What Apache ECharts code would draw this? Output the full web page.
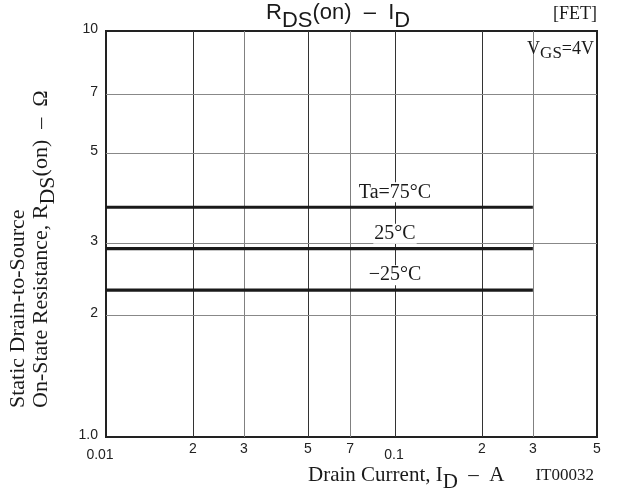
<!DOCTYPE html>
<html>
<head>
<meta charset="utf-8">
<style>
  html, body { margin: 0; padding: 0; background: #fff; }
  #chart { width: 626px; height: 488px; }
</style>
<script src="https://cdn.jsdelivr.net/npm/echarts/dist/echarts.min.js"></script>
</head>
<body>
<div id="chart"></div>
<script>
// Drain current gridlines (A) and their printed labels
const currentTicks = [0.01, 0.02, 0.03, 0.05, 0.07, 0.1, 0.2, 0.3, 0.5];
const currentTickLabels = ['0.01', '2', '3', '5', '7', '0.1', '2', '3', '5'];
// On-resistance gridlines (ohm) and their printed labels
const resistanceTicks = [1, 2, 3, 5, 7, 10];
const resistanceTickLabels = ['1.0', '2', '3', '5', '7', '10'];
// RDS(on) curves, one per ambient temperature
const temperatureLabels = ['Ta=75°C', '25°C', '\u221225°C'];
const rdsOnValues = [3.68, 2.91, 2.30];
const currentStart = 0.01;
const currentEnd = 0.3;

const SERIF = '"Liberation Serif", "Times New Roman", serif';
const SANS = '"Liberation Sans", Arial, sans-serif';
const INK = '#1a1a1a';

const chart = echarts.init(document.getElementById('chart'), null, { renderer: 'canvas' });

const xMin = currentTicks[0], xMax = currentTicks[currentTicks.length - 1];
const yMin = resistanceTicks[0], yMax = resistanceTicks[resistanceTicks.length - 1];
const lightX = [0.03, 0.07, 0.3];

// vertical gridlines; the frame already draws the two edge lines
const vGrid = currentTicks.map((v, i) => {
  const edge = (v === xMin || v === xMax);
  const decade = Math.abs(Math.log10(v) - Math.round(Math.log10(v))) < 1e-9;
  return {
    xAxis: v,
    lineStyle: {
      type: 'solid',
      color: edge ? 'rgba(0,0,0,0)' : (lightX.includes(v) ? '#808080' : '#333'),
      width: 1
    },
    label: {
      formatter: currentTickLabels[i],
      color: '#222',
      distance: decade ? 11 : 5,
      offset: [v === xMin ? -6 : (decade ? -1 : 0), 0]
    }
  };
});

// horizontal gridlines
const hGrid = resistanceTicks.map((v, i) => {
  const edge = (v === yMin || v === yMax);
  return {
    yAxis: v,
    lineStyle: { type: 'solid', color: edge ? 'rgba(0,0,0,0)' : '#888', width: 1 },
    label: { formatter: resistanceTickLabels[i], color: '#222', distance: 8, offset: [0, -2] }
  };
});

const curveSeries = rdsOnValues.map((v, i) => ({
  type: 'line',
  name: temperatureLabels[i],
  data: [[currentStart, v], [currentEnd, v]],
  showSymbol: false,
  symbol: 'none',
  lineStyle: { color: INK, width: 3.2 },
  z: 5,
  silent: true,
  markPoint: {
    symbol: 'circle',
    symbolSize: 1,
    itemStyle: { color: 'rgba(0,0,0,0)' },
    silent: true,
    data: [{ coord: [0.1, v], value: temperatureLabels[i] }],
    label: {
      show: true,
      position: 'inside',
      offset: [0, -15],
      formatter: temperatureLabels[i],
      fontFamily: SERIF,
      fontSize: 20,
      color: INK,
      backgroundColor: '#fff',
      padding: [0, 1]
    }
  }
}));

const option = {
  animation: false,
  backgroundColor: '#fff',
  grid: {
    left: 106, right: 29, top: 31, bottom: 51,
    show: true, borderColor: '#222', borderWidth: 2, backgroundColor: 'transparent'
  },
  xAxis: {
    type: 'log', logBase: 10, min: xMin, max: xMax,
    axisLine: { show: false }, axisTick: { show: false },
    axisLabel: { show: false }, splitLine: { show: false }
  },
  yAxis: {
    type: 'log', logBase: 10, min: yMin, max: yMax,
    axisLine: { show: false }, axisTick: { show: false },
    axisLabel: { show: false }, splitLine: { show: false }
  },
  series: [
    {
      type: 'line',
      name: 'grid',
      data: [],
      silent: true,
      z: 1,
      markLine: {
        silent: true,
        symbol: ['none', 'none'],
        label: {
          show: true,
          position: 'start',
          fontFamily: SANS,
          fontSize: 14,
          color: '#222'
        },
        data: vGrid.concat(hGrid)
      }
    }
  ].concat(curveSeries),
  graphic: [
    {
      type: 'text', left: 266, top: 2, silent: true,
      style: {
        text: '{m|R}{s|DS}{m|(on)  \u2013  I}{s|D}',
        fill: INK,
        rich: {
          m: { fontFamily: SANS, fontSize: 22, lineHeight: 22, verticalAlign: 'top', fill: INK },
          s: { fontFamily: SANS, fontSize: 22, lineHeight: 22, padding: [8, 0, 0, 0], verticalAlign: 'top', fill: INK }
        }
      }
    },
    {
      type: 'text', right: 29, top: 5, silent: true,
      style: { text: '[FET]', font: '18px ' + SERIF, fill: INK }
    },
    {
      type: 'text', right: 32, top: 40, silent: true, z: 10,
      style: {
        text: '{m|V}{s|GS}{m|=4V}',
        fill: INK,
        rich: {
          m: { fontFamily: SERIF, fontSize: 18, lineHeight: 18, verticalAlign: 'top', fill: INK },
          s: { fontFamily: SERIF, fontSize: 17, lineHeight: 18, padding: [5, 0, 0, 0], verticalAlign: 'top', fill: INK }
        }
      }
    },
    {
      type: 'text', x: 18, y: 408, rotation: Math.PI / 2, silent: true,
      style: {
        text: 'Static Drain-to-Source', font: '22px ' + SERIF, fill: INK,
        textAlign: 'left', textVerticalAlign: 'middle'
      }
    },
    {
      type: 'text', x: 41, y: 408, rotation: Math.PI / 2, silent: true,
      style: {
        text: '{m|On-State Resistance, R}{s|DS}{m|(on)  \u2013  \u03A9}',
        fill: INK,
        textAlign: 'left', textVerticalAlign: 'middle',
        rich: {
          m: { fontFamily: SERIF, fontSize: 22, lineHeight: 22, verticalAlign: 'top', fill: INK },
          s: { fontFamily: SERIF, fontSize: 22, lineHeight: 22, padding: [7, 0, 0, 0], verticalAlign: 'top', fill: INK }
        }
      }
    },
    {
      type: 'text', left: 308, top: 465, silent: true,
      style: {
        text: '{m|Drain Current, I}{s|D}{m|  \u2013  A}',
        fill: INK,
        rich: {
          m: { fontFamily: SERIF, fontSize: 21, lineHeight: 21, verticalAlign: 'top', fill: INK },
          s: { fontFamily: SERIF, fontSize: 21, lineHeight: 21, padding: [7, 0, 0, 0], verticalAlign: 'top', fill: INK }
        }
      }
    },
    {
      type: 'text', right: 32, top: 467, silent: true,
      style: { text: 'IT00032', font: '17px ' + SERIF, fill: INK }
    }
  ]
};

chart.setOption(option);
</script>
</body>
</html>
